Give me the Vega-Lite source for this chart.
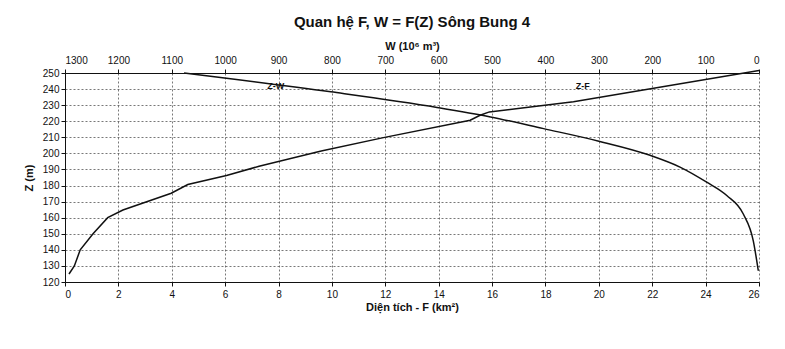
{
  "$schema": "https://vega.github.io/schema/vega-lite/v6.json",
  "width": 694,
  "height": 209,
  "autosize": {"type": "none"},
  "padding": {"left": 65, "top": 73, "right": 26, "bottom": 67},
  "background": "white",
  "title": {
    "text": "Quan hệ F, W = F(Z) Sông Bung 4",
    "font": "Liberation Sans",
    "fontSize": 15,
    "fontWeight": "bold",
    "color": "#111",
    "anchor": "middle",
    "offset": 10
  },
  "config": {
    "view": {"stroke": null},
    "axis": {
      "labelFont": "Liberation Sans",
      "labelFontSize": 10,
      "labelColor": "#111",
      "titleFont": "Liberation Sans",
      "titleFontSize": 11,
      "titleFontWeight": "bold",
      "titleColor": "#111",
      "domainColor": "#111",
      "tickColor": "#111",
      "gridColor": "#555",
      "gridDash": [2, 2],
      "gridWidth": 0.8,
      "tickSize": 4
    }
  },
  "datasets": {
    "zf": [
      {"F": 0.15, "Z": 125},
      {"F": 0.35, "Z": 130},
      {"F": 0.57, "Z": 140},
      {"F": 1.05, "Z": 150},
      {"F": 1.6, "Z": 160},
      {"F": 2.17, "Z": 164.8},
      {"F": 3.98, "Z": 175.2},
      {"F": 4.6, "Z": 180.6},
      {"F": 6.05, "Z": 186.3},
      {"F": 7.27, "Z": 192},
      {"F": 9.6, "Z": 201.5},
      {"F": 11.93, "Z": 209.8},
      {"F": 15.18, "Z": 220.6},
      {"F": 15.55, "Z": 223.7},
      {"F": 15.9, "Z": 225.8},
      {"F": 17.05, "Z": 228},
      {"F": 19.05, "Z": 232.1},
      {"F": 26.0, "Z": 251.5}
    ],
    "zw": [
      {"W": 1077, "Z": 250},
      {"W": 802, "Z": 238.3},
      {"W": 603, "Z": 228.6},
      {"W": 503, "Z": 222.7},
      {"W": 403.5, "Z": 215.4},
      {"W": 300, "Z": 207.6},
      {"W": 204, "Z": 198.8},
      {"W": 148, "Z": 191.5},
      {"W": 98, "Z": 182.1},
      {"W": 60.4, "Z": 173.8},
      {"W": 29.4, "Z": 162.3},
      {"W": 10.7, "Z": 145.6},
      {"W": 1.3, "Z": 127}
    ],
    "lf": [{"F": 19.4, "Z": 241.9, "t": "Z-F"}],
    "lw": [{"W": 905, "Z": 241.9, "t": "Z-W"}]
  },
  "layer": [
    {
      "encoding": {
        "x": {
          "field": "F",
          "type": "quantitative",
          "scale": {"domain": [0, 26], "nice": false},
          "axis": {
            "orient": "bottom",
            "title": "Diện tích - F (km²)",
            "values": [0, 2, 4, 6, 8, 10, 12, 14, 16, 18, 20, 22, 24, 26],
            "grid": true,
            "titlePadding": 2,
            "labelPadding": 3
          }
        },
        "y": {
          "field": "Z",
          "type": "quantitative",
          "scale": {"domain": [120, 250], "nice": false},
          "axis": {
            "title": "Z (m)",
            "values": [120, 130, 140, 150, 160, 170, 180, 190, 200, 210, 220, 230, 240, 250],
            "grid": true,
            "titlePadding": 8,
            "labelPadding": 2
          }
        }
      },
      "layer": [
        {"data": {"name": "zf"}, "mark": {"type": "line", "color": "#111", "strokeWidth": 1.5}},
        {"data": {"name": "lf"}, "mark": {"type": "text", "font": "Liberation Sans", "fontSize": 9, "fontWeight": "bold", "color": "#111"}, "encoding": {"text": {"field": "t"}}}
      ]
    },
    {
      "encoding": {
        "x": {
          "field": "W",
          "type": "quantitative",
          "scale": {"domain": [0, 1300], "reverse": true, "nice": false},
          "axis": {
            "orient": "top",
            "title": "W (10⁶ m³)",
            "format": "d",
            "values": [0, 100, 200, 300, 400, 500, 600, 700, 800, 900, 1000, 1100, 1200, 1300],
            "grid": false,
            "titlePadding": 4,
            "labelPadding": 4
          }
        },
        "y": {
          "field": "Z",
          "type": "quantitative",
          "scale": {"domain": [120, 250], "nice": false},
          "axis": {
            "title": "Z (m)",
            "values": [120, 130, 140, 150, 160, 170, 180, 190, 200, 210, 220, 230, 240, 250],
            "grid": true,
            "titlePadding": 8,
            "labelPadding": 2
          }
        }
      },
      "layer": [
        {"data": {"name": "zw"}, "mark": {"type": "line", "color": "#111", "strokeWidth": 1.5, "interpolate": "monotone"}},
        {"data": {"name": "lw"}, "mark": {"type": "text", "font": "Liberation Sans", "fontSize": 9, "fontWeight": "bold", "color": "#111"}, "encoding": {"text": {"field": "t"}}}
      ]
    }
  ],
  "resolve": {"scale": {"x": "independent"}, "axis": {"x": "independent"}}
}
